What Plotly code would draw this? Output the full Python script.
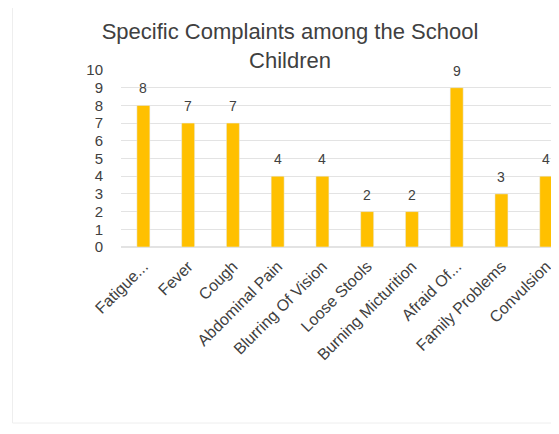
import plotly.graph_objects as go

categories = ["Fatigue...", "Fever", "Cough", "Abdominal Pain", "Blurring Of Vision",
              "Loose Stools", "Burning Micturition", "Afraid Of...", "Family Problems", "Convulsion"]
values = [8, 7, 7, 4, 4, 2, 2, 9, 3, 4]
y_ticks = list(range(0, 11))

# page has an 8px body margin; work in page coordinates and shift
OFF = 8
W, H = 559 - OFF, 434 - OFF
L = 120.6 - OFF
T = 70 - OFF
B = H - (247 - OFF)
R = 0
pw, ph = W - L - R, H - T - B


def px(x):
    return (x - OFF - L) / pw


def py(y):
    return (H - B - (y - OFF)) / ph


fig = go.Figure(go.Bar(
    x=categories, y=values,
    marker_color="#FFC000",
    width=0.29,
))

for c, v in zip(categories, values):
    fig.add_annotation(x=c, y=v, text=str(v), showarrow=False, yanchor="middle",
                       yshift=17, font=dict(size=14, color="#404040"))

fig.update_layout(
    width=W, height=H,
    margin=dict(l=L, r=R, t=T, b=B),
    paper_bgcolor="white", plot_bgcolor="white",
    font=dict(family="Liberation Sans, Arial", color="#404040"),
    showlegend=False,
    title=dict(text="Specific Complaints among the School<br>Children",
               xref="container", x=(290 - OFF) / W, xanchor="center",
               yref="container", y=1 - (39 - OFF) / H, yanchor="middle",
               font=dict(size=22, color="#404040")),
    xaxis=dict(range=[-0.5, -0.5 + (559 - 120.6) / 44.8], tickangle=-45,
               tickfont=dict(size=16, color="#404040"),
               showline=False, showgrid=False, ticks="", ticklabelstandoff=6),
    yaxis=dict(range=[0, 10], tickvals=y_ticks, tickfont=dict(size=15, color="#404040"),
               showgrid=True, gridcolor="#e3e3e3", zeroline=True, zerolinecolor="#e3e3e3",
               showline=False, ticks="", ticklabelstandoff=17),
    shapes=[dict(type="rect", xref="paper", yref="paper",
                 x0=px(12), x1=px(575), y0=py(423), y1=py(5),
                 line=dict(color="#eeeeee", width=1), layer="below")],
)

fig.write_html("out.html")
